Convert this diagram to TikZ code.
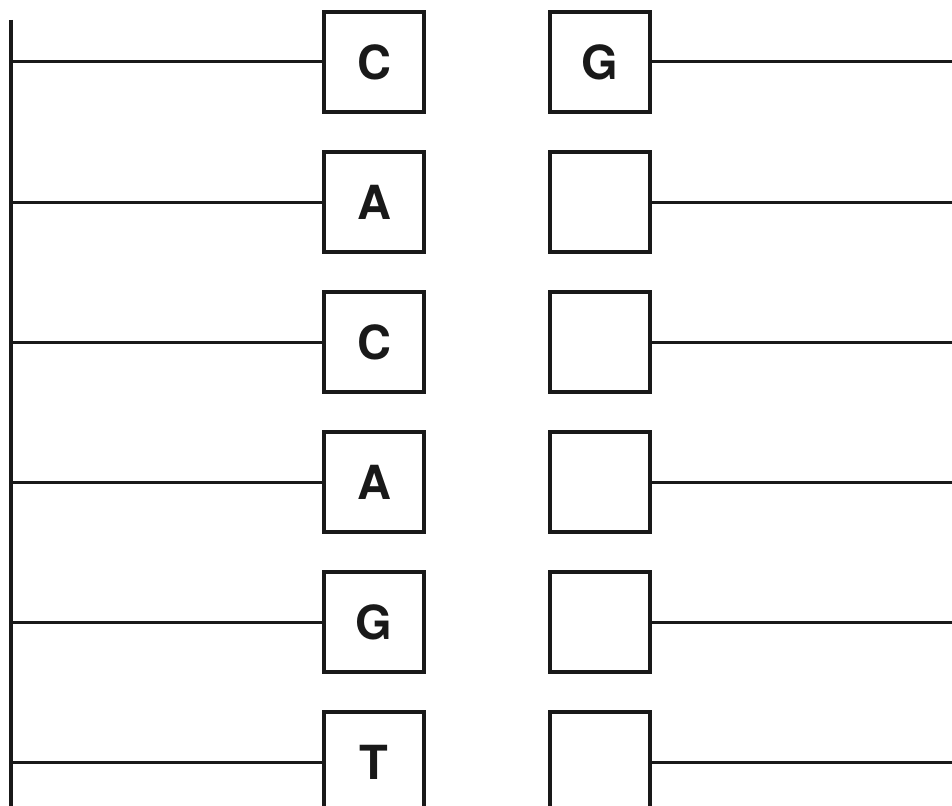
\documentclass[tikz,border=0pt]{standalone}
\usepackage{fontspec}
\setmainfont{TeX Gyre Heros}
\tikzset{
  base/.style={draw=black!90, line width=3.8pt, minimum width=100pt, minimum height=100pt, inner sep=0pt, font=\fontsize{47}{47}\selectfont\bfseries, text=black!90},
  wire/.style={draw=black!90, line width=3pt},
  spine/.style={draw=black!90, line width=3.6pt}
}
\begin{document}
\begin{tikzpicture}[x=1pt,y=-1pt]
\useasboundingbox (0,0) rectangle (952,805);
\clip (0,0) rectangle (952,805);
\coordinate (top) at (10.8,20);
\coordinate (bot) at (10.8,810);
\draw[spine] (top) -- (bot);
\foreach \i/\L/\R in {0/C/G,1/A/,2/C/,3/A/,4/G/,5/T/}{
  \pgfmathsetmacro{\yy}{62+140*\i}
  \node[base] (L\i) at (374,\yy) {\L};
  \node[base] (R\i) at (600,\yy) {\R};
  \coordinate (s\i) at (10.8,\yy);
  \coordinate (e\i) at (960,\yy);
  \draw[wire] (s\i) -- (L\i.west);
  \draw[wire] (R\i.east) -- (e\i);
}
\end{tikzpicture}
\end{document}
